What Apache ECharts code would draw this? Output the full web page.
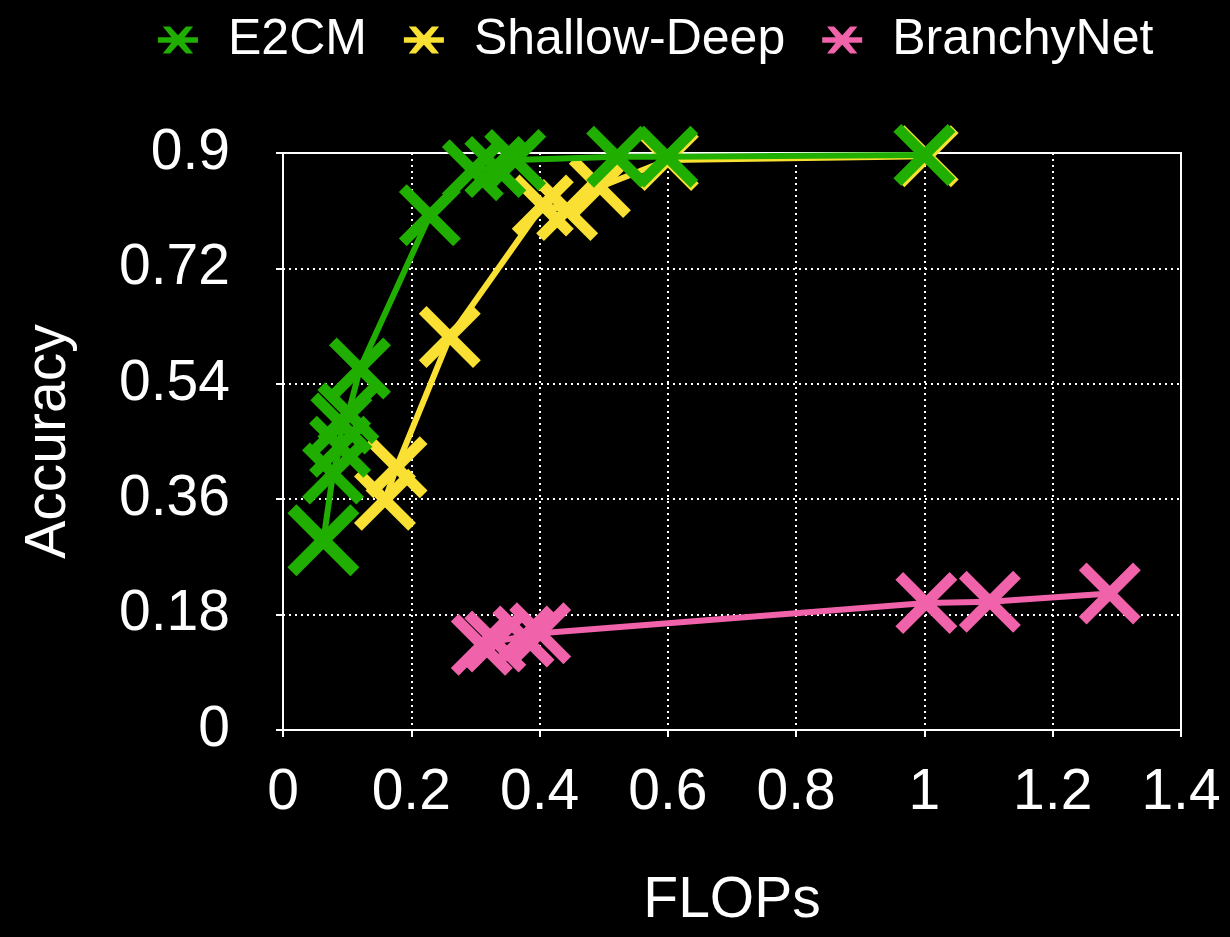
<!DOCTYPE html>
<html>
<head>
<meta charset="utf-8">
<script src="https://cdn.jsdelivr.net/npm/echarts@6/dist/echarts.min.js"></script>
<style>
  html, body { margin: 0; padding: 0; background: #000; }
  #chart { width: 1230px; height: 937px; }
</style>
</head>
<body>
<div id="chart"></div>
<script>
// FLOPs vs accuracy for three early-exit methods
const seriesNames = ['E2CM', 'Shallow-Deep', 'BranchyNet'];

const e2cmFlops = [0.063, 0.078, 0.089, 0.091, 0.102, 0.120, 0.229, 0.296, 0.331, 0.362, 0.521, 0.599, 1.000];
const e2cmAcc   = [0.296, 0.400, 0.442, 0.478, 0.494, 0.564, 0.803, 0.873, 0.878, 0.889, 0.894, 0.894, 0.897];

const sdFlops = [0.159, 0.177, 0.260, 0.405, 0.443, 0.494, 0.600, 1.005];
const sdAcc   = [0.359, 0.410, 0.613, 0.818, 0.811, 0.847, 0.889, 0.895];

const bnFlops = [0.310, 0.331, 0.375, 0.401, 1.003, 1.102, 1.289];
const bnAcc   = [0.133, 0.138, 0.146, 0.151, 0.198, 0.200, 0.213];

const xTicks = [0, 0.2, 0.4, 0.6, 0.8, 1, 1.2, 1.4];
const yTicks = [0, 0.18, 0.36, 0.54, 0.72, 0.9];

const colors = ['#20ae00', '#f9e032', '#f062aa'];

// "X" marker drawn as a filled polygon in a 100x100 box
const a = 12.5;
const crossPath = 'path://M0,' + a + ' L' + a + ',0 L50,' + (50 - a) + ' L' + (100 - a) + ',0 L100,' + a +
  ' L' + (50 + a) + ',50 L100,' + (100 - a) + ' L' + (100 - a) + ',100 L50,' + (50 + a) +
  ' L' + a + ',100 L0,' + (100 - a) + ' L' + (50 - a) + ',50 Z';
// legend icon: X with a horizontal bar
const legendPath = 'path://M12,0 L30,0 L50,32 L70,0 L88,0 L61,50 L88,100 L70,100 L50,68 L30,100 L12,100 L39,50 Z M0,40 L100,40 L100,60 L0,60 Z';

function pairs(xs, ys) {
  return xs.map((x, i) => [x, ys[i]]);
}

const e2cmData = pairs(e2cmFlops, e2cmAcc).map((p, i) =>
  i === 0 ? { value: p, symbolSize: 72 } : { value: p });

function lineSeries(name, data, color, z, width) {
  return {
    name: name,
    type: 'line',
    data: data,
    z: z,
    symbol: crossPath,
    symbolSize: 62,
    showAllSymbol: true,
    lineStyle: { color: color, width: width },
    itemStyle: { color: color },
    emphasis: { disabled: true }
  };
}

const chart = echarts.init(document.getElementById('chart'));
chart.setOption({
  backgroundColor: '#000',
  animation: false,
  textStyle: { fontFamily: 'Liberation Sans, Arial, sans-serif' },
  legend: {
    left: 153,
    top: 10,
    itemWidth: 40,
    itemHeight: 27,
    itemGap: 37,
    symbolKeepAspect: false,
    textStyle: { color: '#fff', fontSize: 50, padding: [0, 0, 0, 25] },
    data: seriesNames.map(n => ({ name: n, icon: legendPath }))
  },
  grid: {
    left: 283, right: 49, top: 153, bottom: 207,
    show: true, borderColor: '#fff', borderWidth: 2, backgroundColor: 'transparent'
  },
  xAxis: {
    type: 'value',
    min: 0, max: 1.4, interval: 0.2,
    name: 'FLOPs',
    nameLocation: 'middle',
    nameGap: 143,
    nameTextStyle: { color: '#fff', fontSize: 57 },
    axisLine: { lineStyle: { color: '#fff', width: 2 } },
    axisTick: { show: true, length: 7, lineStyle: { color: '#fff', width: 2 } },
    axisLabel: {
      color: '#fff', fontSize: 57, margin: 35,
      formatter: v => { const t = xTicks.find(k => Math.abs(k - v) < 1e-6); return t === undefined ? '' : String(t); }
    },
    splitLine: { show: true, lineStyle: { color: '#fff', width: 2, type: [2, 4] } }
  },
  yAxis: {
    type: 'value',
    min: 0, max: 0.9, interval: 0.18,
    name: 'Accuracy',
    nameLocation: 'middle',
    nameGap: 205,
    nameRotate: 90,
    nameTextStyle: { color: '#fff', fontSize: 57 },
    axisLine: { show: true, lineStyle: { color: '#fff', width: 2 } },
    axisTick: { show: true, length: 7, lineStyle: { color: '#fff', width: 2 } },
    axisLabel: {
      color: '#fff', fontSize: 57, margin: 53,
      formatter: v => { const t = yTicks.find(k => Math.abs(k - v) < 1e-6); return t === undefined ? '' : String(t); }
    },
    splitLine: { show: true, lineStyle: { color: '#fff', width: 2, type: [2, 4] } }
  },
  series: [
    lineSeries('E2CM', e2cmData, colors[0], 4, 6),
    lineSeries('Shallow-Deep', pairs(sdFlops, sdAcc), colors[1], 3, 6),
    lineSeries('BranchyNet', pairs(bnFlops, bnAcc), colors[2], 2, 6)
  ]
});
</script>
</body>
</html>
